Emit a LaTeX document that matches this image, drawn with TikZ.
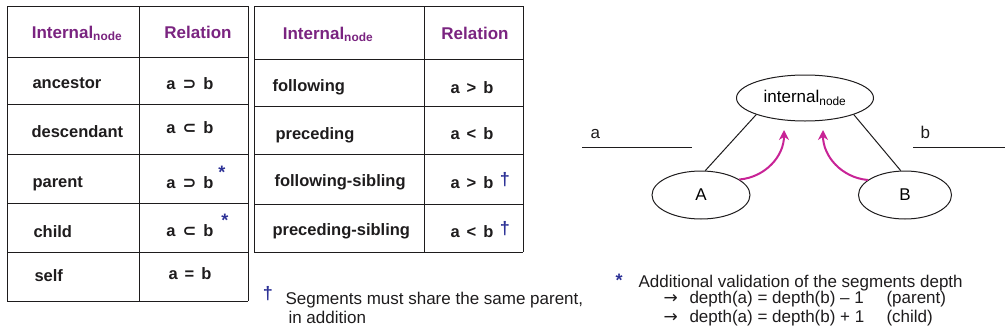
\documentclass[tikz,border=0pt]{standalone}
\usepackage{fontspec}
\setmainfont{Liberation Sans}
\newfontfamily\symfont{DejaVu Sans}
\usetikzlibrary{shapes, arrows.meta, positioning}

\definecolor{hdrpurple}{RGB}{122,36,128}
\definecolor{noteblue}{RGB}{45,50,150}
\definecolor{arrowpink}{RGB}{200,35,150}
\definecolor{inkgray}{RGB}{30,28,29}

\newcommand{\intnode}[1]{#1\textsubscript{node}}
\newcommand{\relab}[1]{a\hspace{7pt}#1\hspace{7pt}b}

\tikzset{
  gridline/.style={draw=inkgray, line width=1pt},
  hdr/.style={font=\fontsize{17}{20}\selectfont\bfseries, text=hdrpurple, anchor=base},
  axisname/.style={font=\fontsize{16.5}{20}\selectfont\bfseries, text=inkgray, anchor=base west},
  rel/.style={font=\fontsize{16.5}{20}\selectfont\bfseries, text=inkgray, anchor=base},
  footsign/.style={font=\fontsize{18}{20}\selectfont\bfseries, text=noteblue},
  plain/.style={font=\fontsize{17}{20}\selectfont, text=inkgray, anchor=base west},
  tree/.style={draw=inkgray, ellipse, line width=1pt, inner sep=0pt, font=\fontsize{17}{20}\selectfont},
  pull/.style={arrowpink, line width=2pt, -{Stealth[length=10pt,width=10pt]}},
}

\begin{document}
\begin{tikzpicture}[x=1pt, y=-1pt]
\useasboundingbox (0,0) rectangle (1005,335);

% first table
\foreach \y in {6,57,104,154,203,252,301}
  \draw[gridline] (7,\y) -- (248,\y);
\foreach \x in {7,139,248}
  \draw[gridline] (\x,6) -- (\x,301);
\node[hdr] (h1) at (77,38) {\intnode{Internal}};
\node[hdr] (r1) at (198,38) {Relation};
\node[axisname] (anc) at (29,88) {ancestor};
\node[axisname] (desc) at (28,137) {descendant};
\node[axisname] (par) at (29,187) {parent};
\node[axisname] (chi) at (30,237) {child};
\node[axisname] (slf) at (31,281) {self};
\node[rel] (ra) at (190,89) {\relab{{\symfont ⊃}}};
\node[rel] (rd) at (190,133) {\relab{{\symfont ⊂}}};
\node[rel] (rp) at (190,188) {\relab{{\symfont ⊃}}};
\node[rel] (rc) at (190,236) {\relab{{\symfont ⊂}}};
\node[rel] (rs) at (190,279) {\relab{=}};
\node[footsign] (sp) at (222,172) {*};
\node[footsign] (sc) at (225,220) {*};

% second table
\foreach \y in {6,59,106,154,204,252}
  \draw[gridline] (254,\y) -- (523,\y);
\foreach \x in {254,424,523}
  \draw[gridline] (\x,6) -- (\x,252);
\node[hdr] (h2) at (328,39) {\intnode{Internal}};
\node[hdr] (r2) at (475,39) {Relation};
\node[axisname] (fol) at (269,91) {following};
\node[axisname] (pre) at (272,139) {preceding};
\node[axisname] (fsib) at (271,186) {following-sibling};
\node[axisname] (psib) at (269,235) {preceding-sibling};
\node[rel] (rf) at (472,93) {\relab{>}};
\node[rel] (rpr) at (472,139) {\relab{<}};
\node[rel] (rfs) at (472,188) {\relab{>}};
\node[rel] (rps) at (472,237) {\relab{<}};
\node[footsign] (df) at (505,180) {†};
\node[footsign] (dp) at (505,229) {†};

% dagger note
\node[footsign] (dnote) at (268,294) {†};
\node[plain] (seg1) at (282,304) {Segments must share the same parent,};
\node[plain] (seg2) at (285,323) {in addition};

% tree
\node[tree, minimum width=137pt, minimum height=46pt] (int) at (805,98) {\intnode{internal}};
\node[tree, minimum width=98pt, minimum height=48pt] (A) at (701,195) {A};
\node[tree, minimum width=93pt, minimum height=48pt] (B) at (905,195) {B};
\draw[inkgray, line width=1pt] (int.south west) -- (A.80);
\draw[inkgray, line width=1pt] (int.south east) -- (B.100);
\coordinate (tipA) at (784,130);
\coordinate (tipB) at (823,130);
\draw[pull] (A.22) to[out=5, in=-90] (tipA);
\draw[pull] (B.158) to[out=175, in=-90] (tipB);

% segments a and b
\coordinate (a1) at (582,147);
\coordinate (a2) at (692,147);
\coordinate (b1) at (913,147);
\coordinate (b2) at (1005,147);
\draw[inkgray, line width=1pt] (a1) -- (a2);
\draw[inkgray, line width=1pt] (b1) -- (b2);
\node[plain] (la) at (587,138) {a};
\node[plain] (lb) at (917,138) {b};

% depth note
\node[footsign] (snote) at (619,280) {*};
\node[plain] (val) at (635,287) {Additional validation of the segments depth};
\node[plain, font=\fontsize{17}{20}\symfont] (ar1) at (660,303) {→};
\node[plain] (dep1) at (686,303) {depth(a) = depth(b) – 1};
\node[plain] (pp) at (883,303) {(parent)};
\node[plain, font=\fontsize{17}{20}\symfont] (ar2) at (660,322) {→};
\node[plain] (dep2) at (686,322) {depth(a) = depth(b) + 1};
\node[plain] (pc) at (883,322) {(child)};
\end{tikzpicture}
\end{document}
